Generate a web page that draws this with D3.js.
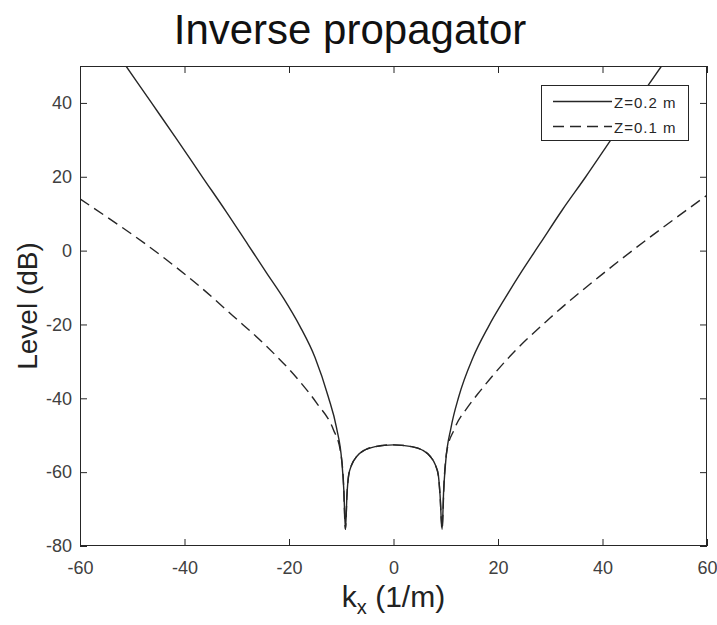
<!DOCTYPE html>
<html>
<head>
<meta charset="utf-8">
<script src="https://cdn.jsdelivr.net/npm/d3@7"></script>
<style>
  body { margin: 0; background: #fff; }
  svg { font-family: "Liberation Sans", Arial, sans-serif; }
</style>
</head>
<body>
<svg id="chart" width="717" height="625"></svg>
<script>
// values
const xTicks = [-60, -40, -20, 0, 20, 40, 60];
const yTicks = [-80, -60, -40, -20, 0, 20, 40];

// shared central dome (|kx| < k)
const kxInner = [-8.9, -8.6, -8.0, -7.0, -5.5, -3.5, 0, 3.5, 5.5, 7.0, 8.0, 8.6, 8.9];
const levelInner = [-66, -61, -58, -55.7, -54, -53.1, -52.6, -53.1, -54, -55.7, -58, -61, -66];

// Z = 0.2 m (solid)
const kxLeft02 = [-51.2, -46.3, -41.4, -36.6, -32.0, -27.8, -24.3, -21.0, -17.9, -15.0, -12.5, -10.9, -9.9, -9.5, -9.2];
const levelLeft02 = [50, 40, 30, 20, 10.5, 1.5, -6, -13, -20.5, -29, -39.5, -48, -57, -65, -75.5];
const kxRight02 = [9.3, 9.6, 10.0, 11.0, 12.5, 15.2, 18.2, 21.3, 24.6, 28.1, 32.3, 36.8, 41.6, 46.4, 51.3];
const levelRight02 = [-75.5, -65, -57, -48, -39.5, -29, -20.5, -13, -5.5, 2, 11, 20, 30, 40, 50];

// Z = 0.1 m (dashed)
const kxLeft01 = [-60, -43.7, -37.0, -30.7, -24.3, -17.9, -14.7, -11.5, -10.2, -9.6, -9.2];
const levelLeft01 = [14, -2.2, -9.8, -17.7, -25.9, -35.5, -41.3, -48.5, -54, -62, -75.5];
const kxRight01 = [9.3, 9.7, 10.2, 11.6, 14.3, 16.6, 21.7, 30.0, 39.5, 43.7, 60];
const levelRight01 = [-75.5, -62, -54.4, -48.5, -42.2, -38, -29.5, -18.2, -6.9, -2.2, 15];

const series = [
  { name: 'Z=0.2 m', dash: null,
    kx: [...kxLeft02, ...kxInner, ...kxRight02],
    level: [...levelLeft02, ...levelInner, ...levelRight02] },
  { name: 'Z=0.1 m', dash: '11,6',
    kx: [...kxLeft01, ...kxInner, ...kxRight01],
    level: [...levelLeft01, ...levelInner, ...levelRight01] }
];

const margin = { top: 66, right: 10, bottom: 79, left: 80 },
  width = 717,
  height = 625;
const axisColor = '#262626';

const svg = d3.select('#chart');

const xScale = d3.scaleLinear().domain([-60, 60]).range([margin.left, width - margin.right]);
const yScale = d3.scaleLinear().domain([-80, 50]).range([height - margin.bottom, margin.top]);

svg.append('defs').append('clipPath').attr('id', 'plot')
  .append('rect')
  .attr('x', margin.left).attr('y', margin.top)
  .attr('width', width - margin.right - margin.left)
  .attr('height', height - margin.bottom - margin.top);

const styleAxis = g => {
  g.select('.domain').remove();
  g.selectAll('.tick line').attr('stroke', axisColor);
  g.selectAll('.tick text')
    .attr('fill', '#404040')
    .attr('font-size', 18)
    .attr('font-family', '"Liberation Sans", Arial, sans-serif');
};

svg.append('g')
  .attr('transform', `translate(0,${height - margin.bottom})`)
  .call(d3.axisBottom(xScale).tickValues(xTicks).tickSize(-7).tickPadding(15).tickFormat(d => String(d)))
  .call(styleAxis);

svg.append('g')
  .attr('transform', `translate(0,${margin.top})`)
  .call(d3.axisTop(xScale).tickValues(xTicks).tickSize(-7).tickFormat(''))
  .call(styleAxis);

svg.append('g')
  .attr('transform', `translate(${margin.left},0)`)
  .call(d3.axisLeft(yScale).tickValues(yTicks).tickSize(-7).tickPadding(8).tickFormat(d => String(d)))
  .call(styleAxis);

svg.append('g')
  .attr('transform', `translate(${width - margin.right},0)`)
  .call(d3.axisRight(yScale).tickValues(yTicks).tickSize(-7).tickFormat(''))
  .call(styleAxis);

const line = d3.line()
  .curve(d3.curveMonotoneX)
  .x(d => xScale(d[0]))
  .y(d => yScale(d[1]));

svg.append('g')
  .attr('clip-path', 'url(#plot)')
  .selectAll('path')
  .data(series.slice().reverse())
  .join('path')
  .attr('fill', 'none')
  .attr('stroke', '#262626')
  .attr('stroke-width', 1.4)
  .attr('stroke-dasharray', d => d.dash)
  .attr('d', d => line(d.kx.map((k, i) => [k, d.level[i]])));

// axes box
svg.append('rect')
  .attr('x', margin.left + 0.5).attr('y', margin.top + 0.5)
  .attr('width', width - margin.right - margin.left - 1)
  .attr('height', height - margin.bottom - margin.top - 1)
  .attr('fill', 'none')
  .attr('stroke', axisColor);

// legend
const legend = svg.append('g');
legend.append('rect')
  .attr('x', 541.5).attr('y', 85.5)
  .attr('width', 147).attr('height', 55)
  .attr('fill', '#fff')
  .attr('stroke', axisColor);

series.forEach((s, i) => {
  const ly = 101.5 + i * 25;
  legend.append('line')
    .attr('x1', 553).attr('x2', 612)
    .attr('y1', ly).attr('y2', ly)
    .attr('stroke', '#262626')
    .attr('stroke-width', 1.4)
    .attr('stroke-dasharray', s.dash);
  legend.append('text')
    .attr('x', 614).attr('y', ly + 6.5)
    .attr('font-size', 15)
    .attr('letter-spacing', 1)
    .attr('fill', '#262626')
    .text(s.name);
});

// title and axis labels
svg.append('text')
  .attr('x', 350).attr('y', 44)
  .attr('text-anchor', 'middle')
  .attr('font-size', 42)
  .attr('fill', '#111')
  .text('Inverse propagator');

svg.append('text')
  .attr('transform', `translate(37,${(margin.top + height - margin.bottom) / 2}) rotate(-90)`)
  .attr('text-anchor', 'middle')
  .attr('font-size', 28)
  .attr('fill', '#222')
  .text('Level (dB)');

const xl = svg.append('text')
  .attr('x', xScale(0)).attr('y', 607)
  .attr('text-anchor', 'middle')
  .attr('font-size', 30)
  .attr('fill', '#222');
xl.append('tspan').text('k');
xl.append('tspan').attr('font-size', 20).attr('dy', 7).text('x');
xl.append('tspan').attr('dy', -7).text(' (1/m)');
</script>
</body>
</html>
